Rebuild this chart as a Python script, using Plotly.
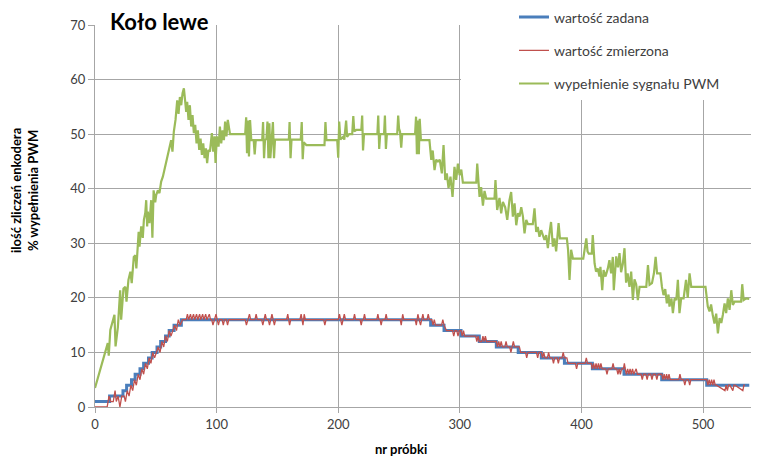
import plotly.graph_objects as go

# ---- data ----
# set value (step function: sample where the value changes, value)
set_x = [0, 12, 23, 26, 30, 33, 37, 40, 44, 47, 51, 54, 58, 61, 65, 71,
         276, 287, 301, 316, 330, 348, 367, 386, 409, 435, 466, 503, 538]
set_y = [1, 2, 3, 4, 5, 6, 7, 8, 9, 10, 11, 12, 13, 14, 15, 16,
         15, 14, 13, 12, 11, 10, 9, 8, 7, 6, 5, 4, 4]

# measured value (vertices of the polyline)
meas_x = [0, 10, 11.5, 13, 15, 16.5, 17.5, 19, 20.5, 22, 24, 25, 26.5, 28, 29.5, 31, 32.5, 34, 35.5, 37,
          38.5, 40, 41.5, 43, 44.5, 46, 47.5, 49, 50.5, 52, 53.5, 55, 56.5, 58, 59.5, 61, 62.5, 64, 65.5, 67,
          68.5, 70, 72, 75, 76, 77, 78.5, 79.5, 81, 82, 83.5, 84.5, 86, 87, 88.5, 89.5, 91, 92, 94, 95,
          96, 97, 98, 99.5, 100.5, 101.5, 102.5, 104.5, 105.5, 106.5, 108, 109, 110,
          123.5, 124.5, 125.5, 127, 128, 131.5, 132.5, 133.5, 137, 138, 139, 140, 141, 142.5, 143.5, 144.5,
          145.5, 146.5, 147.5, 148.5, 157.5, 158.5, 159.3, 160, 161, 168.5, 169.5, 170.3, 171, 172, 173,
          188, 189, 190, 200, 201, 202, 203, 204, 205, 206, 212.5, 213.4, 214.3, 218, 218.9, 219.8, 220.7,
          221.6, 222.5, 231.7, 232.6, 233.5, 234.4, 235.3, 236.2, 238.5, 239.4, 240.3, 251, 251.8, 252.5,
          253, 254, 263.3, 264.2, 265, 265.5, 266.5, 267.7, 268.6, 269.6, 270.5, 273, 274, 275, 277, 278,
          279, 280, 285, 286, 287, 289, 294, 295, 296, 297.5, 298.5, 299.5, 301, 302, 303, 304, 313, 314,
          315, 316, 318, 319, 320, 321, 322, 330, 331, 332, 333, 334, 335, 337, 338, 339, 341, 342, 343,
          344, 345, 349, 350, 354, 355, 356, 363, 364, 365, 367, 368, 369, 370, 372, 373, 374, 376, 377,
          378, 380, 381, 382, 384, 385, 386, 388, 389, 395, 396, 397, 403, 404, 405, 408, 409, 410, 411,
          412, 413, 414, 415, 416, 417, 420, 421, 422, 425, 426, 427, 429, 430, 431, 432, 433, 434.5, 435.3,
          436, 437, 438, 439, 440, 441, 442, 443, 445, 446, 449, 450, 451, 453, 454, 455, 457, 458, 459,
          461, 462, 463, 466, 467, 468, 469, 470, 471, 472, 473, 480, 481, 482, 484, 485, 486, 488, 489,
          490, 503, 504, 505, 506, 507, 508, 509, 510, 511, 518, 519, 520, 521, 522, 524.5, 525.4, 526.3,
          532.7, 533.6, 534.5, 538]
meas_y = [0, 0, 2, 1, 1, 3, 1, 2, 0, 2, 2, 1, 3, 2, 4, 3, 5, 4, 6, 5,
          7, 6, 8, 7, 9, 8, 10, 9, 10, 11, 10, 12, 11, 13, 12, 14, 13, 14, 15, 14,
          16, 15, 16, 16, 17, 16, 17, 16, 17, 16, 17, 16, 17, 16, 17, 16, 17, 16, 17, 16,
          16, 15, 16, 17, 16, 15, 16, 16, 15, 16, 16, 15, 16,
          16, 15, 16, 17, 16, 16, 17, 16, 16, 15, 16, 17, 16, 16, 15, 16,
          17, 16, 15, 16, 16, 17, 16, 15, 16, 16, 17, 16, 15, 17, 16,
          16, 15, 16, 16, 17, 16, 15, 16, 17, 16, 16, 17, 16, 16, 15, 16, 16,
          17, 16, 16, 17, 16, 16, 15, 16, 16, 17, 16, 16, 15, 16,
          17, 16, 16, 15, 16, 17, 16, 15, 16, 17, 16, 16, 17, 16, 16, 15,
          16, 15, 15, 16, 15, 14, 14, 13, 14, 14, 13, 14, 14, 13, 14, 13, 13, 12,
          13, 12, 12, 13, 12, 13, 12, 12, 11, 12, 11, 12, 11, 11, 12, 11, 11, 10, 11,
          12, 11, 11, 10, 10, 9, 10, 10, 9, 10, 10, 9, 10, 9, 9, 10, 9, 9, 8,
          9, 9, 8, 9, 9, 10, 9, 9, 8, 8, 7, 8, 8, 9, 8, 8, 7, 8, 7,
          8, 7, 8, 7, 8, 7, 7, 6, 7, 7, 8, 7, 7, 6, 7, 6, 7, 7, 8,
          7, 6, 7, 6, 7, 6, 7, 6, 7, 6, 6, 5, 6, 6, 5, 6, 6, 5, 6,
          6, 5, 6, 6, 5, 6, 5, 6, 5, 6, 5, 5, 6, 5, 5, 4, 5, 5, 4,
          5, 5, 4, 5, 4, 5, 4, 5, 4, 4, 3, 4, 3, 4, 4, 3, 4,
          4, 3, 4, 4]

# PWM duty cycle (vertices of the polyline)
pwm_x = [0, 10.5, 11.3, 12.6, 16, 16.9, 18.8, 20.7, 21.5, 23.4, 25, 25.9, 27.5, 29.1, 30.2, 31.9, 33.2, 34,
         35.9, 36.6, 38, 39.3, 40.2, 41.3, 42.1, 42.9, 43.4, 44.8, 46.2, 47.2, 48.2, 49.5, 50.3, 51.7, 53,
         54.4, 55.8, 58.5, 61.3, 62.6, 63.7, 64.8, 66.2, 67.6, 68.7, 69.8, 70.9, 72, 73.1, 73.9, 75, 75.8,
         76.9, 78, 79.1, 80.2, 81.3, 82.4, 83.5, 84.6, 85.7, 86.8, 87.9, 89, 90.1, 91.2, 92.2, 93.3, 94.5,
         96.1, 97.2, 98.3, 99.1, 100.2, 101.6, 102.7, 103.8, 104.9, 106, 107, 108.1, 109.2, 110.3, 111,
         123.5, 124.3, 125, 125.8, 126.6, 127.5, 128.5, 130.5, 131.3, 132.2, 137.5, 138.2, 139, 139.8, 141,
         141.8, 142.6, 143.4, 144.2, 145, 146.3, 147.2, 148, 159.4, 160, 160.8, 161.6, 169.2, 170, 170.8,
         171.6, 173.8, 188.7, 189.5, 190.3, 199.2, 200, 200.8, 201.8, 204, 205, 206.5, 207.3, 209, 211.5,
         212.4, 213.2, 215, 219, 219.7, 220.4, 221.2, 232.2, 232.9, 233.7, 234.5, 237.7, 238.4, 239.2, 240,
         248.5, 249.3, 250, 250.8, 251.8, 252.6, 263.2, 264, 264.7, 265.5, 266.3, 267, 268, 275, 276.5,
         277.7, 279.2, 280.5, 282, 283.5, 285.2, 286.6, 288, 289.3, 290.7, 292.3, 294, 295.6, 297, 298.4,
         299.8, 301.2, 302.5, 313.5, 314.3, 316.2, 317.5, 319, 320.3, 321.7, 328.5, 329.3, 330.7, 332.6,
         334, 335.4, 337.3, 339, 340.8, 342.2, 343.6, 345, 346.4, 347.8, 349.1, 350.5, 351.9, 353.2, 354.6,
         356, 360, 361.4, 362.8, 364.1, 365.5, 366.9, 368.3, 369.6, 371, 372.4, 373.7, 375, 376.5, 377.8,
         379.2, 381.2, 382.3, 388, 389, 390.2, 391.5, 393, 401.5, 402.6, 404, 405, 406, 408.5, 409.3, 410.8,
         412, 413.4, 414.8, 415.6, 417.1, 418.2, 419.8, 421.7, 423, 424.4, 425.8, 426.6, 428.6, 430, 431.3,
         432.6, 434, 435.4, 436.7, 438, 439.5, 440.9, 442.3, 443.6, 445, 446.4, 447.8, 453.3, 454.7, 456,
         458, 459.6, 461, 462.2, 464.9, 466.2, 467.5, 468.9, 470.2, 471.6, 472.4, 474, 475.2, 476.6, 478,
         479.3, 480.6, 482, 484, 486, 487.4, 488.9, 490.3, 502, 503.9, 505.3, 506.6, 508, 509.4, 510.8,
         512.2, 513.6, 515, 516.3, 517.7, 519, 520.4, 521.8, 523.2, 524.5, 525.9, 531.3, 532.2, 533.4,
         535.5, 538]
pwm_y = [3.5, 11.7, 9.4, 14.1, 16.9, 11.1, 14.6, 21.4, 16, 21.7, 22, 19.3, 23.3, 24.8, 22.7, 27.5, 27.8, 25.4,
         32.1, 29.4, 33.1, 31, 34.3, 35.5, 37.9, 33.1, 35.8, 33.7, 37.9, 31, 39.7, 37.5, 38.8, 39.7, 39.2,
         41.3, 42.2, 44.9, 47.7, 48.9, 46.8, 50.4, 52.6, 56.2, 53.7, 56.8, 55.3, 57.5, 58.4, 56.2, 54.1, 55.9,
         52.6, 55.3, 51.4, 53.5, 50.2, 51.7, 48.3, 50.7, 47.1, 49.2, 46.2, 48.3, 45.6, 47.4, 44.7, 47.1, 46.8,
         50.2, 46.8, 49.6, 44.7, 49.6, 47.7, 51.4, 48.3, 50.7, 48.9, 52.3, 49.6, 52.6, 50.2, 50,
         50, 53.1, 46.5, 52.5, 45.9, 52.6, 48.9, 48.9, 46.3, 48.9, 48.9, 52.2, 45.6, 48.9, 49.2,
         52.3, 45.6, 52, 45.6, 49, 52.2, 45.6, 49, 49, 52.2, 45.6, 49, 49, 52.2, 45.4,
         48.5, 48, 48, 52.2, 48.9, 48.9, 45.7, 52.3, 49, 49.5, 49, 52.5, 49.5, 50, 50,
         53.3, 50.5, 50.8, 50.8, 53.4, 47, 50, 50, 53.4, 47.3, 50, 50, 53.4, 47.3, 50,
         50, 53.4, 51, 50.5, 47.5, 50, 50, 53.2, 46.3, 52.5, 46.3, 52.8, 48.9, 48.9, 45.3,
         47, 43.4, 45.3, 45, 45.3, 42.8, 48, 41.6, 42.8, 40.1, 42.2, 38.5, 44, 41.6, 44.6,
         42.5, 43.5, 41.1, 41.1, 44.6, 38.5, 40.3, 36.9, 39.6, 38.2, 38.2, 41.6, 36.1, 38.3,
         35.5, 37.6, 36.6, 34.3, 37.9, 39.4, 34.9, 37.3, 33.3, 35.5, 34.9, 36.6, 34.9, 31.8, 34.3,
         33.5, 33.5, 36.4, 32.1, 33, 31.2, 32.4, 31.5, 30.6, 31.5, 29.1, 31.8, 33.9, 29.4, 30.9,
         28.5, 33.7, 30.9, 30.9, 28.8, 23.3, 28.8, 27.2, 27.2, 28.8, 30.9, 28.5, 28.1, 28.1, 31.5, 26.3,
         24.8, 25.4, 23.9, 25.7, 21.4, 25.1, 23.9, 25.4, 26.9, 24.5, 27.5, 21.4, 27.6, 25.6, 28.2,
         24.7, 26.2, 29.1, 22.8, 24.5, 22, 24.8, 19.6, 23.4, 22.5, 19.6, 22, 22, 26, 22.4,
         22.7, 24.5, 27.5, 24.5, 24.5, 22, 20.5, 21.6, 19, 20.6, 18.4, 19.9, 17.2, 19.9, 19.6,
         23.3, 17.2, 19.9, 19.9, 23.3, 20, 24.5, 22, 22, 18.4, 17.5, 18.8, 16.8, 15.3, 17.1,
         13.5, 16.3, 15.4, 16.9, 19, 17.2, 19.9, 17.8, 21.4, 18.7, 19.3, 19.3, 22.5, 19.6,
         19.9, 19.8]

x_ticks = [0, 100, 200, 300, 400, 500]
y_ticks = [0, 10, 20, 30, 40, 50, 60, 70]

series_names = ["wartość zadana", "wartość zmierzona", "wypełnienie sygnału PWM"]
series_colors = ["#4A7EBB", "#C0504D", "#9BBB59"]

FONT = "Lato, 'Open Sans', sans-serif"

fig = go.Figure()
fig.add_trace(go.Scatter(x=set_x, y=set_y, mode="lines", name=series_names[0],
                         line=dict(color=series_colors[0], width=3, shape="hv"),
                         legendgroup="a"))
fig.add_trace(go.Scatter(x=meas_x, y=meas_y, mode="lines", name=series_names[1],
                         line=dict(color=series_colors[1], width=1.3),
                         legendgroup="b"))
fig.add_trace(go.Scatter(x=pwm_x, y=pwm_y, mode="lines", name=series_names[2],
                         line=dict(color=series_colors[2], width=2.2),
                         legendgroup="c"))

# The page places the figure 8 px from its top-left corner; the figure is sized
# so that it fills the rest of the 759x460 window.
OFF = 8
W, H = 759 - OFF, 460 - OFF
ml, mr, mt = 95 - OFF, 0, 25 - OFF
mb = H - (407 - OFF)
pw, ph = W - ml - mr, H - mt - mb


def px2paper_x(px):
    # page pixel -> paper fraction
    return (px - OFF - ml) / pw


def px2paper_y(py):
    return (H - mb - (py - OFF)) / ph


grid_col = "#A6A6A6"
fig.update_layout(
    width=W, height=H,
    margin=dict(l=ml, r=mr, t=mt, b=mb, pad=0, autoexpand=False),
    paper_bgcolor="white", plot_bgcolor="white",
    font=dict(family=FONT, size=12, color="#404040"),
    showlegend=True,
    legend=dict(x=px2paper_x(514), y=px2paper_y(1.5), xanchor="left", yanchor="top",
                bgcolor="white", borderwidth=0, tracegroupgap=12,
                font=dict(family=FONT, size=14, color="#404040")),
    xaxis=dict(range=[0, 546], tickvals=x_ticks, ticktext=[str(v) for v in x_ticks],
               showgrid=True, gridcolor=grid_col, gridwidth=1,
               showline=True, linecolor=grid_col, linewidth=1,
               ticks="outside", ticklen=5, tickcolor=grid_col,
               zeroline=False, tickfont=dict(family=FONT, size=13, color="#404040")),
    yaxis=dict(range=[0, 70], tickvals=y_ticks, ticktext=[str(v) for v in y_ticks],
               showgrid=True, gridcolor=grid_col, gridwidth=1,
               showline=True, linecolor=grid_col, linewidth=1,
               ticks="outside", ticklen=6, tickcolor=grid_col,
               zeroline=False, tickfont=dict(family=FONT, size=13, color="#404040")),
    shapes=[dict(type="rect", xref="paper", yref="paper",
                 x0=px2paper_x(461), x1=1.02, y0=px2paper_y(98), y1=1.1,
                 fillcolor="white", line=dict(width=0), layer="above")],
    annotations=[
        dict(text="<b>Koło lewe</b>", xref="paper", yref="paper",
             x=px2paper_x(159), y=px2paper_y(22), xanchor="center", yanchor="middle",
             showarrow=False, bgcolor="white", borderpad=3,
             font=dict(family=FONT, size=22, color="black")),
        dict(text="<b>ilość zliczeń enkodera<br>% wypełnienia PWM</b>", xref="paper", yref="paper",
             x=px2paper_x(25), y=px2paper_y(191), xanchor="center", yanchor="middle",
             textangle=-90, showarrow=False,
             font=dict(family=FONT, size=13, color="black")),
        dict(text="<b>nr próbki</b>", xref="paper", yref="paper",
             x=px2paper_x(401), y=px2paper_y(439), xanchor="center", yanchor="top",
             showarrow=False, font=dict(family=FONT, size=13, color="black")),
    ],
)

fig.write_html("out.html")
